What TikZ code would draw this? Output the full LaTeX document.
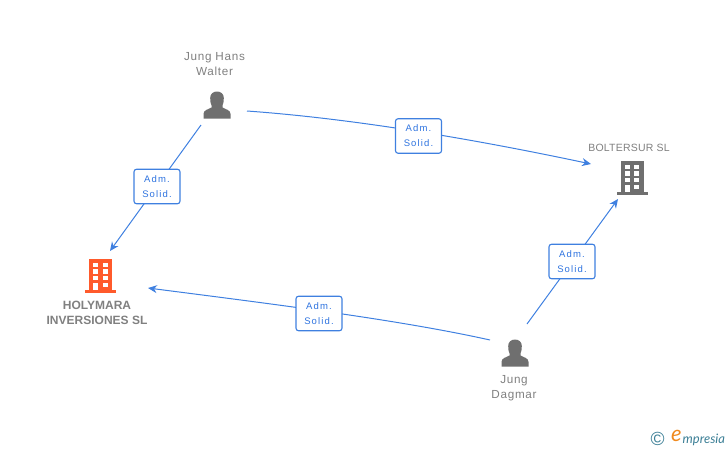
\documentclass[tikz,border=0pt]{standalone}
\usepackage{fontspec}
\setmainfont{Liberation Sans}
\newfontfamily\lblfont[LetterSpace=6]{Liberation Sans}
\newfontfamily\capfont[LetterSpace=2]{Liberation Sans}
\newfontfamily\boxfont[LetterSpace=12]{Liberation Sans}
\newfontfamily\logofont{Lato}
\usetikzlibrary{arrows.meta}
\definecolor{linkblue}{HTML}{3F80E0}
\definecolor{boxtext}{HTML}{2F74E0}
\definecolor{icongray}{HTML}{6F6F6F}
\definecolor{txtgray}{HTML}{808080}
\definecolor{hotorange}{HTML}{FF5A2B}
\definecolor{logoteal}{HTML}{3C7F96}
\definecolor{logoorange}{HTML}{F08A1E}
\tikzset{
  x=1pt,y=-1pt,
  link/.style={linkblue,line width=1pt,-{Stealth[length=9pt,width=8pt]}},
  rolebox/.style={draw=linkblue,line width=1.1pt,rounded corners=2.5pt,fill=white,
    minimum width=46pt,minimum height=34.5pt,inner sep=0pt,align=center,
    text=boxtext,font=\boxfont\fontsize{9.5}{15}\selectfont},
  namelabel/.style={align=center,text=txtgray,inner sep=0pt,font=\lblfont\fontsize{11.7}{15}\selectfont},
  caplabel/.style={align=center,text=txtgray,inner sep=0pt,font=\capfont\fontsize{10.5}{15}\selectfont},
  boldlabel/.style={align=center,text=txtgray,inner sep=0pt,font=\bfseries\fontsize{12}{15}\selectfont},
  anchorpt/.style={inner sep=0pt,minimum size=0pt},
  pics/person/.style={code={
    \fill[icongray] (-13.5,13.5) -- (-13.5,9) .. controls (-13.5,5) and (-9,4.5) .. (-5.5,2.5)
      -- (-5.5,0.5) .. controls (-6.5,-1.5) and (-6.8,-4) .. (-6.8,-7)
      .. controls (-6.8,-11) and (-4,-13.5) .. (0,-13.5)
      .. controls (4,-13.5) and (6.8,-11) .. (6.8,-7)
      .. controls (6.8,-4) and (6.5,-1.5) .. (5.5,0.5) -- (5.5,2.5)
      .. controls (9,4.5) and (13.5,5) .. (13.5,9) -- (13.5,13.5) -- cycle;
  }},
  pics/tower/.style={code={
    \fill[#1] (-15.5,14) rectangle (15.5,17);
    \fill[#1] (-11.5,-17) rectangle (11.5,14);
    \foreach \wy in {-13.5,-7,-0.5} {
      \fill[white] (-7.5,\wy) rectangle (-2.5,{\wy+4.7});
      \fill[white] (2,\wy) rectangle (7,{\wy+4.7});
    }
    \fill[white] (-7.5,6.5) rectangle (-2.5,14);
    \fill[white] (2,6.5) rectangle (7,11);
  }},
}
\begin{document}
\begin{tikzpicture}
\useasboundingbox (0,0) rectangle (728,450);
% icons
\pic at (217,105) {person};
\pic at (515,353) {person};
\pic at (100.5,276) {tower=hotorange};
\pic at (632,178) {tower=icongray};
% labels
\node[namelabel] (hanslbl) at (214.5,64.5) {Jung Hans\\Walter};
\node[namelabel] (daglbl) at (514,388) {Jung\\Dagmar};
\node[caplabel] (boltlbl) at (629,147.5) {BOLTERSUR SL};
\node[boldlabel] (holylbl) at (97,312.5) {HOLYMARA\\INVERSIONES SL};
% connector ends
\node[anchorpt] (hansA) at (201,125) {};
\node[anchorpt] (holyA) at (110,251) {};
\node[anchorpt] (hansB) at (247,111) {};
\node[anchorpt] (boltA) at (591,164) {};
\node[anchorpt] (dagA) at (527,324) {};
\node[anchorpt] (boltB) at (618,199) {};
\node[anchorpt] (dagB) at (490,340) {};
\node[anchorpt] (holyB) at (148,288) {};
% connectors
\draw[link] (hansA.center) -- (holyA.center);
\draw[link] (hansB.center) .. controls (330,117) and (440,132) .. (boltA.center);
\draw[link] (dagA.center) -- (boltB.center);
\draw[link] (dagB.center) .. controls (400,320) and (280,305) .. (holyB.center);
% role boxes
\node[rolebox] (r1) at (157,186.5) {Adm.\\Solid.};
\node[rolebox] (r2) at (418.5,136) {Adm.\\Solid.};
\node[rolebox] (r3) at (572,261.5) {Adm.\\Solid.};
\node[rolebox] (r4) at (319,313.5) {Adm.\\Solid.};
% logo
\node[inner sep=0pt,text=logoteal,font=\fontsize{19}{19}\selectfont] (copy) at (657.5,438.5) {©};
\node[inner sep=0pt,text=logoorange,font=\logofont\itshape\fontsize{22}{22}\selectfont] (logoe) at (676.5,436) {e};
\node[inner sep=0pt,anchor=base west,text=logoteal,font=\logofont\itshape\fontsize{13}{13}\selectfont] (logot) at (682.5,443) {mpresia};
\end{tikzpicture}
\end{document}
